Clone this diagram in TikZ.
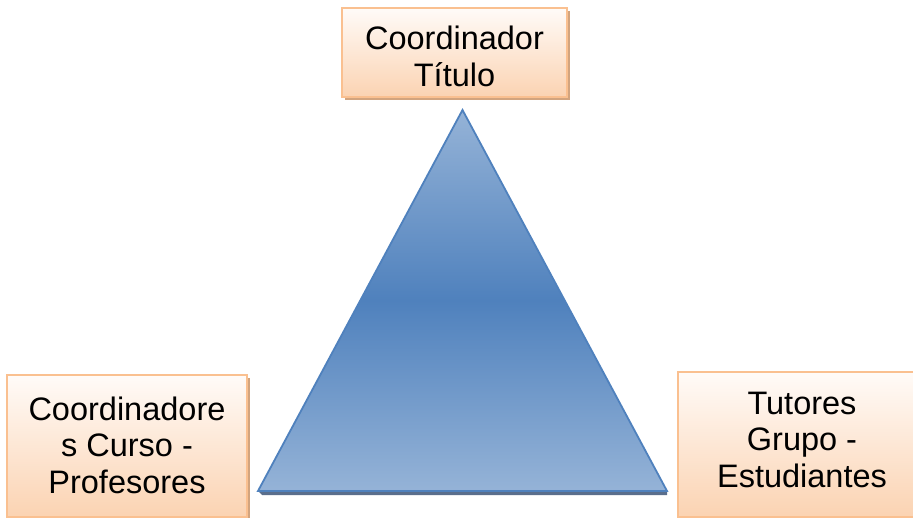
\documentclass[tikz,border=0pt]{standalone}
\usepackage{fontspec}
\setmainfont{Liberation Sans}
\usetikzlibrary{shadows}
\definecolor{boxborder}{HTML}{FAC090}
\definecolor{boxtop}{HTML}{FFFBF8}
\definecolor{boxbot}{HTML}{FBD3B2}
\definecolor{boxshadow}{HTML}{D2A47E}
\definecolor{trilight}{HTML}{95B3D7}
\definecolor{tridark}{HTML}{4F81BD}
\definecolor{trishadow}{HTML}{5A6E8C}
\tikzset{
  rolebox/.style={draw=boxborder, line width=1.5pt, top color=boxtop, bottom color=boxbot,
    inner sep=0pt,
    general shadow={fill=boxshadow, shadow xshift=3pt, shadow yshift=-3pt}},
  roletext/.style={align=center, inner sep=0pt, font=\fontsize{32.5}{36.5}\selectfont},
}
\begin{document}
\begin{tikzpicture}[x=1pt,y=-1pt]
\path[use as bounding box, clip] (0,0) rectangle (913,518);
\fill[white] (0,0) rectangle (913,518);
% triangle
\coordinate (apex) at (462.5,110);
\coordinate (bl) at (258,491);
\coordinate (br) at (667,491);
\fill[trishadow] ([shift={(4,4)}]bl) -- ([shift={(0,4)}]br) -- (br) -- (bl) -- cycle;
\shade[top color=trilight, bottom color=trilight, middle color=tridark]
  (apex) -- (br) -- (bl) -- cycle;
\draw[tridark, line width=1.8pt, line join=miter] (apex) -- (br) -- (bl) -- cycle;
% boxes
\node[rolebox, minimum width=225pt, minimum height=89pt] (top) at (454.5,52.5) {};
\node[rolebox, minimum width=240pt, minimum height=142pt] (left) at (127,446) {};
\node[rolebox, minimum width=248pt, minimum height=145pt] (right) at (802,444.5) {};
\node[roletext] (toptext) at ([yshift=-4pt]top.center) {Coordinador\\Título};
\node[roletext] (lefttext) at ([yshift=1pt]left.center) {Coordinadore\\s Curso -\\Profesores};
\node[roletext] (righttext) at ([yshift=5pt]right.center) {Tutores\\Grupo -\\Estudiantes};
\end{tikzpicture}
\end{document}
